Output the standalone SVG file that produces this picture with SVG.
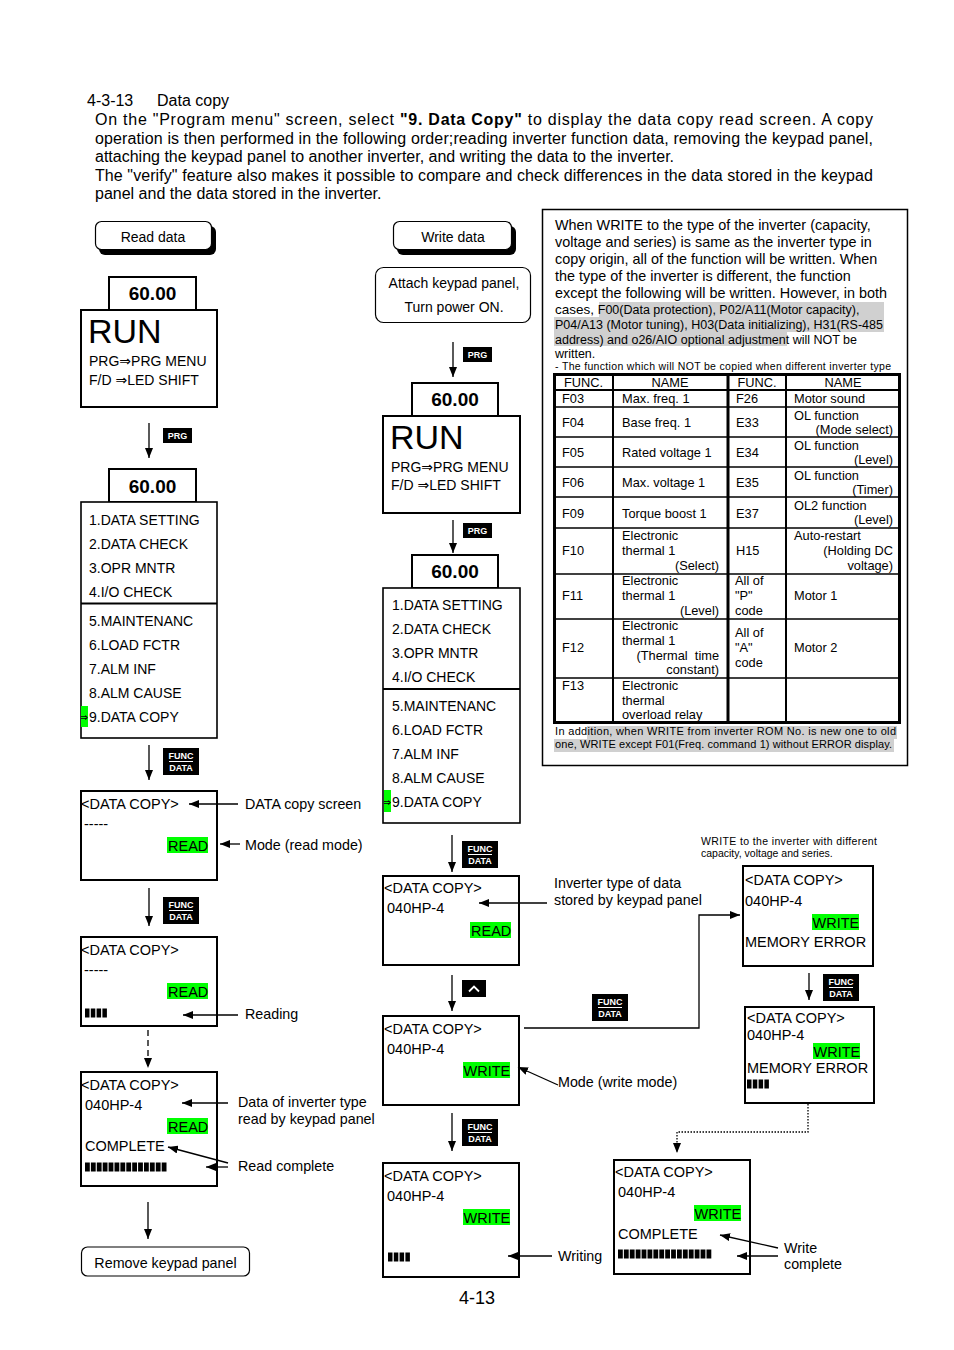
<svg xmlns="http://www.w3.org/2000/svg" xmlns:xlink="http://www.w3.org/1999/xlink" width="954" height="1350" viewBox="0 0 954 1350">
<style>
text{font-family:"Liberation Sans",Arial,"DejaVu Sans",sans-serif;fill:#000}
.p{font-size:16px}
.b14{font-size:14px}
.lb{font-size:14.3px}
.scr{font-size:14.5px}
.big{font-size:34px}
.num{font-size:19px;font-weight:bold}
.note{font-size:14.4px}
.sm{font-size:12.5px}
.tb{font-size:12.8px}
.xs{font-size:11px}
.xxs{font-size:10.5px}
.box{fill:#fff;stroke:#000;stroke-width:2}
.mbox{fill:#fff;stroke:#000;stroke-width:1.6}
.rbox{fill:#fff;stroke:#000;stroke-width:1.2}
.ln{stroke:#000;stroke-width:1.3;fill:none}
.arr{stroke:#000;stroke-width:1.3;fill:none;marker-end:url(#ah)}
.grn{fill:#00ff00}
.hl{fill:#d0d0d0}
.bar{stroke:#000;stroke-width:9;fill:none}
.key{fill:#000}
.kt{fill:#fff;font-weight:bold;font-size:9px}
.tl{stroke:#000;stroke-width:1.3}
</style>
<defs>
<marker id="ah" markerUnits="userSpaceOnUse" markerWidth="10" markerHeight="8" refX="10" refY="4" orient="auto"><path d="M0,0 L10,4 L0,8 z" fill="#000"/></marker>
<g id="kfd"><rect class="key" x="0" y="0" width="36" height="27"/><text class="kt" x="18" y="11" text-anchor="middle">FUNC</text><line x1="6" y1="13.5" x2="30" y2="13.5" stroke="#fff" stroke-width="1"/><text class="kt" x="18" y="23" text-anchor="middle">DATA</text></g>
<g id="kprg"><rect class="key" x="0" y="0" width="29" height="15"/><text class="kt" x="14.5" y="11" text-anchor="middle">PRG</text></g>
<clipPath id="cg1"><rect x="81" y="706" width="7" height="21"/></clipPath>
<clipPath id="cg2"><rect x="384" y="790" width="7" height="22"/></clipPath>
</defs>

<g id="header">
<text class="p" x="87" y="106">4-3-13</text>
<text class="p" x="157" y="106">Data copy</text>
<text class="p" x="95" y="125" textLength="778" lengthAdjust="spacing">On the "Program menu" screen, select <tspan font-weight="bold">"9. Data Copy"</tspan> to display the data copy read screen.  A copy</text>
<text class="p" x="95" y="144" textLength="778" lengthAdjust="spacing">operation is then performed in the following order;reading inverter function data, removing the keypad panel,</text>
<text class="p" x="95" y="162">attaching the keypad panel to another inverter, and writing the data to the inverter.</text>
<text class="p" x="95" y="181" textLength="778" lengthAdjust="spacing">The "verify" feature also makes it possible to compare and check differences in the data stored in the keypad</text>
<text class="p" x="95" y="199">panel and the data stored in the inverter.</text>
</g>

<!-- Left column -->
<g id="read-data">
<rect x="99" y="226" width="117" height="29" rx="6" fill="#000"/>
<rect x="95.5" y="221.5" width="116" height="28" rx="6" class="rbox"/>
<text class="b14" x="153" y="242" text-anchor="middle">Read data</text>
</g>
<g id="run-left">
<rect x="109" y="277" width="87" height="33" class="box"/>
<text class="num" x="152.5" y="300" text-anchor="middle">60.00</text>
<rect x="81" y="310" width="136" height="97" class="box"/>
<text class="big" x="88" y="343">RUN</text>
<text class="b14" x="89" y="366">PRG⇒PRG MENU</text>
<text class="b14" x="89" y="385">F/D ⇒LED SHIFT</text>
</g>
<g id="menu-left">
<rect x="109" y="469" width="87" height="33" class="box"/>
<text class="num" x="152.5" y="493" text-anchor="middle">60.00</text>
<rect x="81" y="502" width="136" height="236" class="mbox"/>
<line x1="81" y1="603.5" x2="217" y2="603.5" stroke="#000" stroke-width="2"/>
<text class="b14" x="89" y="525">1.DATA SETTING</text>
<text class="b14" x="89" y="549">2.DATA CHECK</text>
<text class="b14" x="89" y="573">3.OPR MNTR</text>
<text class="b14" x="89" y="597">4.I/O CHECK</text>
<text class="b14" x="89" y="626">5.MAINTENANC</text>
<text class="b14" x="89" y="650">6.LOAD FCTR</text>
<text class="b14" x="89" y="674">7.ALM INF</text>
<text class="b14" x="89" y="698">8.ALM CAUSE</text>
<rect x="81" y="706" width="7" height="21" class="grn"/>
<text x="79" y="721" font-size="11" clip-path="url(#cg1)">⇒</text>
<text class="b14" x="89" y="722">9.DATA COPY</text>
</g>
<g id="copy-read-1">
<rect x="81" y="791" width="136" height="89" class="box"/>
<text class="scr" x="81" y="809">&lt;DATA COPY&gt;</text>
<text class="scr" x="84" y="829">-----</text>
<rect x="167" y="837" width="41" height="16" class="grn"/>
<text class="scr" x="168" y="851">READ</text>
</g>
<g id="copy-read-2">
<rect x="81" y="937" width="136" height="89" class="box"/>
<text class="scr" x="81" y="955">&lt;DATA COPY&gt;</text>
<text class="scr" x="84" y="975">-----</text>
<rect x="167" y="983" width="41" height="16" class="grn"/>
<text class="scr" x="168" y="997">READ</text>
<line class="bar" x1="85" y1="1013" x2="107" y2="1013" stroke-dasharray="4.5 1.3"/>
</g>
<g id="copy-read-3">
<rect x="81" y="1072" width="136" height="114" class="box"/>
<text class="scr" x="81" y="1090">&lt;DATA COPY&gt;</text>
<text class="scr" x="85" y="1110">040HP-4</text>
<rect x="167" y="1118" width="41" height="16" class="grn"/>
<text class="scr" x="168" y="1132">READ</text>
<text class="scr" x="85" y="1151">COMPLETE</text>
<line class="bar" x1="85" y1="1167" x2="167" y2="1167" stroke-dasharray="4.8 1.1"/>
</g>
<g id="remove-keypad">
<rect x="81.5" y="1247" width="168" height="29" rx="6" class="rbox"/>
<text class="lb" x="165.5" y="1268" text-anchor="middle">Remove keypad panel</text>
</g>

<!-- Middle column -->
<g id="write-data">
<rect x="397" y="226" width="119" height="29" rx="6" fill="#000"/>
<rect x="393.5" y="221.5" width="118" height="28" rx="6" class="rbox"/>
<text class="b14" x="453" y="242" text-anchor="middle">Write data</text>
</g>
<g id="attach">
<rect x="375.5" y="267.5" width="155" height="55" rx="8" class="rbox"/>
<text class="b14" x="454" y="288" text-anchor="middle">Attach keypad panel,</text>
<text class="b14" x="454" y="312" text-anchor="middle">Turn power ON.</text>
</g>
<g id="run-mid">
<rect x="412" y="383" width="86" height="33" class="box"/>
<text class="num" x="455" y="406" text-anchor="middle">60.00</text>
<rect x="383" y="416" width="137" height="97" class="box"/>
<text class="big" x="390" y="449">RUN</text>
<text class="b14" x="391" y="472">PRG⇒PRG MENU</text>
<text class="b14" x="391" y="490">F/D ⇒LED SHIFT</text>
</g>
<g id="menu-mid">
<rect x="412" y="555" width="86" height="33" class="box"/>
<text class="num" x="455" y="578" text-anchor="middle">60.00</text>
<rect x="383" y="588" width="137" height="235" class="mbox"/>
<line x1="383" y1="689" x2="520" y2="689" stroke="#000" stroke-width="2"/>
<text class="b14" x="392" y="610">1.DATA SETTING</text>
<text class="b14" x="392" y="634">2.DATA CHECK</text>
<text class="b14" x="392" y="658">3.OPR MNTR</text>
<text class="b14" x="392" y="682">4.I/O CHECK</text>
<text class="b14" x="392" y="711">5.MAINTENANC</text>
<text class="b14" x="392" y="735">6.LOAD FCTR</text>
<text class="b14" x="392" y="759">7.ALM INF</text>
<text class="b14" x="392" y="783">8.ALM CAUSE</text>
<rect x="384" y="790" width="7" height="22" class="grn"/>
<text x="382" y="806" font-size="11" clip-path="url(#cg2)">⇒</text>
<text class="b14" x="392" y="807">9.DATA COPY</text>
</g>
<g id="copy-mid-1">
<rect x="383" y="876" width="136" height="89" class="box"/>
<text class="scr" x="384" y="893">&lt;DATA COPY&gt;</text>
<text class="scr" x="387" y="913">040HP-4</text>
<rect x="470" y="922" width="41" height="16" class="grn"/>
<text class="scr" x="471" y="936">READ</text>
</g>
<g id="copy-mid-2">
<rect x="383" y="1016" width="136" height="89" class="box"/>
<text class="scr" x="384" y="1034">&lt;DATA COPY&gt;</text>
<text class="scr" x="387" y="1054">040HP-4</text>
<rect x="463" y="1062" width="47" height="16" class="grn"/>
<text class="scr" x="463.5" y="1076">WRITE</text>
</g>
<g id="copy-mid-3">
<rect x="383" y="1163" width="136" height="114" class="box"/>
<text class="scr" x="384" y="1181">&lt;DATA COPY&gt;</text>
<text class="scr" x="387" y="1201">040HP-4</text>
<rect x="463" y="1209" width="47" height="16" class="grn"/>
<text class="scr" x="463.5" y="1223">WRITE</text>
<line class="bar" x1="388" y1="1257" x2="410" y2="1257" stroke-dasharray="4.5 1.3"/>
</g>

<!-- Right column -->
<g id="note-box">
<rect x="542.5" y="209.5" width="365" height="556" fill="#fff" stroke="#000" stroke-width="1.5"/>
<rect x="599" y="302" width="285" height="15" class="hl"/>
<rect x="554" y="317" width="330" height="15" class="hl"/>
<rect x="554" y="332" width="233" height="14" class="hl"/>
<text class="note" x="555" y="230">When WRITE to the type of the inverter (capacity,</text>
<text class="note" x="555" y="247">voltage and series) is same as the inverter type in</text>
<text class="note" x="555" y="264">copy origin, all of the function will be written. When</text>
<text class="note" x="555" y="281">the type of the inverter is different, the function</text>
<text class="note" x="555" y="298">except the following will be written. However, in both</text>
<text class="sm" x="555" y="314"><tspan font-size="13.5px">cases, </tspan>F00(Data protection), P02/A11(Motor capacity),</text>
<text class="sm" x="555" y="329">P04/A13 (Motor tuning), H03(Data initializing), H31(RS-485</text>
<text class="sm" x="555" y="344">address) and o26/AIO optional adjustment will NOT be</text>
<text class="sm" x="555" y="358">written.</text>
<text class="xxs" x="555" y="370" textLength="336" lengthAdjust="spacing">- The function which will NOT be copied when different inverter type</text>
</g>
<g id="func-table">
<rect x="554.5" y="374.5" width="345" height="348" fill="none" stroke="#000" stroke-width="3"/>
<line x1="554" y1="390" x2="900" y2="390" stroke="#000" stroke-width="2"/>
<g class="tl">
<line x1="554" y1="407" x2="900" y2="407"/>
<line x1="554" y1="437" x2="900" y2="437"/>
<line x1="554" y1="467" x2="900" y2="467"/>
<line x1="554" y1="497" x2="900" y2="497"/>
<line x1="554" y1="528" x2="900" y2="528"/>
<line x1="554" y1="574" x2="900" y2="574"/>
<line x1="554" y1="619" x2="900" y2="619"/>
<line x1="554" y1="678" x2="900" y2="678"/>
</g>
<line x1="613" y1="374" x2="613" y2="722" stroke="#000" stroke-width="2"/>
<line x1="728" y1="374" x2="728" y2="722" stroke="#000" stroke-width="3"/>
<line x1="786" y1="374" x2="786" y2="722" stroke="#000" stroke-width="2"/>
<text class="tb" x="583.5" y="387" text-anchor="middle">FUNC.</text>
<text class="tb" x="670" y="387" text-anchor="middle">NAME</text>
<text class="tb" x="757" y="387" text-anchor="middle">FUNC.</text>
<text class="tb" x="843" y="387" text-anchor="middle">NAME</text>
<text class="tb" x="562" y="403">F03</text><text class="tb" x="622" y="403">Max. freq. 1</text><text class="tb" x="736" y="403">F26</text><text class="tb" x="794" y="403">Motor sound</text>
<text class="tb" x="562" y="427">F04</text><text class="tb" x="622" y="427">Base freq. 1</text><text class="tb" x="736" y="427">E33</text><text class="tb" x="794" y="420">OL function</text><text class="tb" x="893" y="434" text-anchor="end">(Mode select)</text>
<text class="tb" x="562" y="457">F05</text><text class="tb" x="622" y="457">Rated voltage 1</text><text class="tb" x="736" y="457">E34</text><text class="tb" x="794" y="450">OL function</text><text class="tb" x="893" y="464" text-anchor="end">(Level)</text>
<text class="tb" x="562" y="487">F06</text><text class="tb" x="622" y="487">Max. voltage 1</text><text class="tb" x="736" y="487">E35</text><text class="tb" x="794" y="480">OL function</text><text class="tb" x="893" y="494" text-anchor="end">(Timer)</text>
<text class="tb" x="562" y="518">F09</text><text class="tb" x="622" y="518">Torque boost 1</text><text class="tb" x="736" y="518">E37</text><text class="tb" x="794" y="510">OL2 function</text><text class="tb" x="893" y="524" text-anchor="end">(Level)</text>
<text class="tb" x="562" y="555">F10</text><text class="tb" x="622" y="540">Electronic</text><text class="tb" x="622" y="555">thermal 1</text><text class="tb" x="719" y="570" text-anchor="end">(Select)</text><text class="tb" x="736" y="555">H15</text><text class="tb" x="794" y="540">Auto-restart</text><text class="tb" x="893" y="555" text-anchor="end">(Holding DC</text><text class="tb" x="893" y="570" text-anchor="end">voltage)</text>
<text class="tb" x="562" y="600">F11</text><text class="tb" x="622" y="585">Electronic</text><text class="tb" x="622" y="600">thermal 1</text><text class="tb" x="719" y="615" text-anchor="end">(Level)</text><text class="tb" x="735" y="585">All of</text><text class="tb" x="735" y="600">"P"</text><text class="tb" x="735" y="615">code</text><text class="tb" x="794" y="600">Motor 1</text>
<text class="tb" x="562" y="652">F12</text><text class="tb" x="622" y="630">Electronic</text><text class="tb" x="622" y="645">thermal 1</text><text class="tb" x="719" y="660" text-anchor="end">(Thermal&#160; time</text><text class="tb" x="719" y="674" text-anchor="end">constant)</text><text class="tb" x="735" y="637">All of</text><text class="tb" x="735" y="652">"A"</text><text class="tb" x="735" y="667">code</text><text class="tb" x="794" y="652">Motor 2</text>
<text class="tb" x="562" y="690">F13</text><text class="tb" x="622" y="690">Electronic</text><text class="tb" x="622" y="705">thermal</text><text class="tb" x="622" y="719">overload relay</text>
</g>
<g id="note-bottom">
<rect x="587" y="726" width="310" height="13" class="hl"/>
<rect x="554" y="739" width="340" height="13" class="hl"/>
<text class="xs" x="555" y="735" textLength="341" lengthAdjust="spacing">In addition, when WRITE from inverter ROM No. is new one to old</text>
<text class="xs" x="555" y="748" textLength="337" lengthAdjust="spacing">one, WRITE except F01(Freq. command 1) without ERROR display.</text>
</g>
<g id="diff-note">
<text class="xxs" x="701" y="845" textLength="176" lengthAdjust="spacing">WRITE to the inverter with different</text>
<text class="xxs" x="701" y="857">capacity, voltage and series.</text>
</g>
<g id="copy-err-1">
<rect x="743" y="866" width="130" height="100" class="box" stroke-width="2.5"/>
<text class="scr" x="745" y="885">&lt;DATA COPY&gt;</text>
<text class="scr" x="745" y="906">040HP-4</text>
<rect x="812" y="914" width="47" height="16" class="grn"/>
<text class="scr" x="812.5" y="928">WRITE</text>
<text class="scr" x="745" y="947">MEMORY ERROR</text>
</g>
<g id="copy-err-2">
<rect x="745" y="1007" width="129" height="96" class="box" stroke-width="1.6"/>
<text class="scr" x="747" y="1023">&lt;DATA COPY&gt;</text>
<text class="scr" x="747" y="1040">040HP-4</text>
<rect x="813" y="1043" width="47" height="16" class="grn"/>
<text class="scr" x="813.5" y="1057">WRITE</text>
<text class="scr" x="747" y="1073">MEMORY ERROR</text>
<line class="bar" x1="747" y1="1084" x2="769" y2="1084" stroke-dasharray="4.5 1.3"/>
</g>
<g id="copy-complete">
<rect x="614" y="1160" width="136" height="114" class="box"/>
<text class="scr" x="615" y="1177">&lt;DATA COPY&gt;</text>
<text class="scr" x="618" y="1197">040HP-4</text>
<rect x="694" y="1205" width="47" height="16" class="grn"/>
<text class="scr" x="694.5" y="1219">WRITE</text>
<text class="scr" x="618" y="1239">COMPLETE</text>
<line class="bar" x1="618" y1="1254" x2="712" y2="1254" stroke-dasharray="4.8 1.1"/>
</g>

<!-- labels -->
<g id="labels">
<text class="lb" x="245" y="809">DATA copy screen</text>
<text class="lb" x="245" y="850">Mode (read mode)</text>
<text class="lb" x="245" y="1019">Reading</text>
<text class="lb" x="238" y="1107">Data of inverter type</text>
<text class="lb" x="238" y="1124">read by keypad panel</text>
<text class="lb" x="238" y="1171">Read complete</text>
<text class="lb" x="554" y="888">Inverter type of data</text>
<text class="lb" x="554" y="905">stored by keypad panel</text>
<text class="lb" x="558" y="1087">Mode (write mode)</text>
<text class="lb" x="558" y="1261">Writing</text>
<text class="lb" x="784" y="1253">Write</text>
<text class="lb" x="784" y="1269">complete</text>
<text x="477" y="1304" font-size="18" text-anchor="middle">4-13</text>
</g>

<!-- keys -->
<g id="keys">
<use xlink:href="#kprg" x="163" y="428"/>
<use xlink:href="#kprg" x="463" y="347"/>
<use xlink:href="#kprg" x="463" y="523"/>
<use xlink:href="#kfd" x="163" y="748"/>
<use xlink:href="#kfd" x="163" y="897"/>
<use xlink:href="#kfd" x="462" y="841"/>
<use xlink:href="#kfd" x="462" y="1119"/>
<use xlink:href="#kfd" x="592" y="994"/>
<use xlink:href="#kfd" x="823" y="974"/>
<rect class="key" x="462" y="980" width="24" height="17"/>
<polyline points="469,991.5 474,986.5 479,991.5" fill="none" stroke="#fff" stroke-width="1.8"/>
</g>

<!-- connectors -->
<g id="connectors">
<line class="arr" x1="149" y1="423" x2="149" y2="458"/>
<line class="arr" x1="149" y1="745" x2="149" y2="780"/>
<line class="arr" x1="149" y1="888" x2="149" y2="926"/>
<line class="arr" x1="148" y1="1030" x2="148" y2="1068" stroke-dasharray="6 4"/>
<line class="arr" x1="148" y1="1202" x2="148" y2="1239"/>
<line class="arr" x1="453" y1="342" x2="453" y2="377"/>
<line class="arr" x1="453" y1="520" x2="453" y2="553"/>
<line class="arr" x1="452" y1="835" x2="452" y2="872"/>
<line class="arr" x1="452" y1="975" x2="452" y2="1011"/>
<line class="arr" x1="452" y1="1113" x2="452" y2="1151"/>
<line class="arr" x1="809" y1="973" x2="809" y2="1000"/>
<path class="arr" d="M524,1028 H699 V915 H740"/>
<path class="arr" d="M808,1104 V1132 H677 V1153" stroke-width="1" stroke-dasharray="1.5 1.5"/>
<line class="arr" x1="238" y1="804" x2="189" y2="804"/>
<line class="arr" x1="240" y1="844" x2="220" y2="844"/>
<line class="arr" x1="238" y1="1015" x2="183" y2="1015"/>
<line class="arr" x1="228" y1="1103" x2="182" y2="1103"/>
<line class="arr" x1="228" y1="1163" x2="168" y2="1147"/>
<line class="arr" x1="228" y1="1167" x2="206" y2="1167"/>
<line class="arr" x1="547" y1="903" x2="479" y2="903"/>
<line class="arr" x1="558" y1="1085" x2="518" y2="1067"/>
<line class="arr" x1="552" y1="1256" x2="508" y2="1256"/>
<line class="arr" x1="778" y1="1248" x2="720" y2="1235"/>
<line class="arr" x1="778" y1="1256" x2="737" y2="1256"/>
</g>
</svg>
